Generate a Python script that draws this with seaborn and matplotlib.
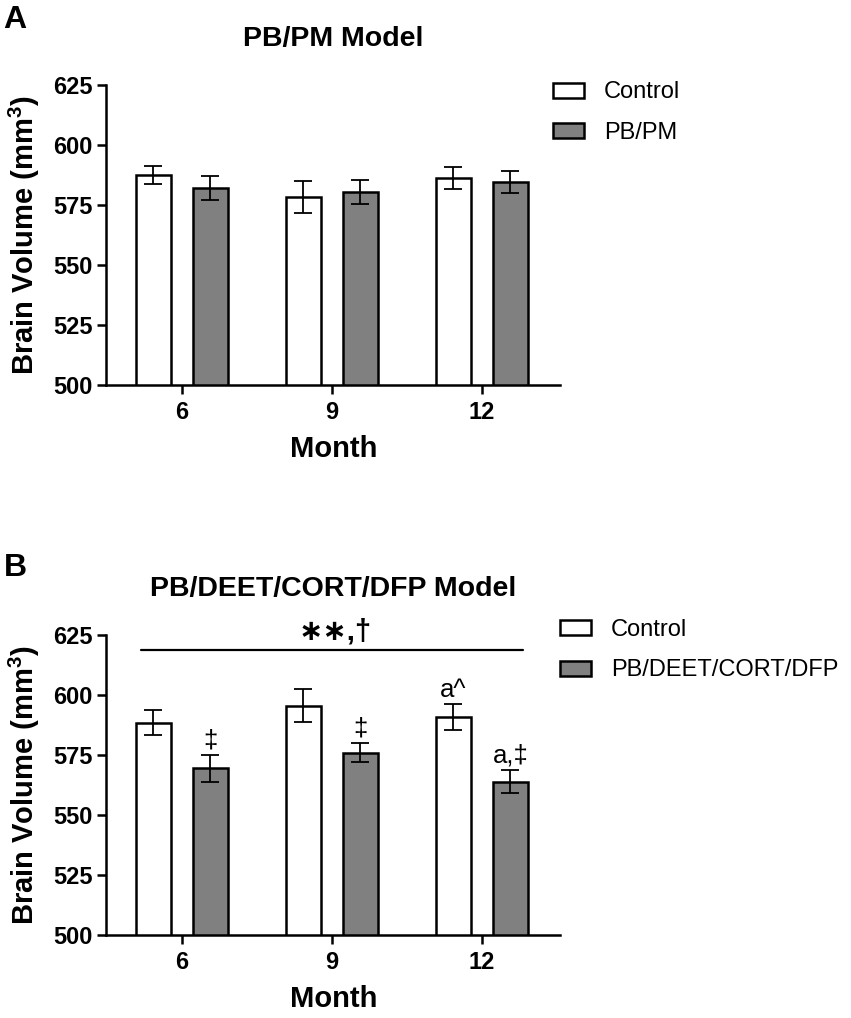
import matplotlib
matplotlib.use('Agg')
import matplotlib.pyplot as plt
from matplotlib.container import BarContainer
import seaborn as sns
import pandas as pd

# data
months = ['6', '9', '12']

pbpm_groups = ['Control', 'PB/PM']
pbpm_control_mean = [587.5, 578.3, 586.2]
pbpm_control_sem = [3.7, 6.7, 4.5]
pbpm_treat_mean = [582.0, 580.3, 584.5]
pbpm_treat_sem = [5.0, 5.0, 4.5]

gwi_groups = ['Control', 'PB/DEET/CORT/DFP']
gwi_control_mean = [588.5, 595.6, 590.8]
gwi_control_sem = [5.3, 6.8, 5.5]
gwi_treat_mean = [569.5, 576.0, 563.9]
gwi_treat_sem = [5.7, 3.9, 4.7]
gwi_control_marks = ['', '', 'a^']
gwi_treat_marks = ['\u2021', '\u2021', 'a,\u2021']
gwi_overall_mark = '\u2217\u2217,\u2020'
gwi_overall_y = 618.75

sns.set_style('ticks')
plt.rcParams['font.family'] = ['Liberation Sans', 'DejaVu Sans']
plt.rcParams['mathtext.fontset'] = 'custom'
plt.rcParams['mathtext.rm'] = 'Liberation Sans'
plt.rcParams['mathtext.bf'] = 'Liberation Sans:bold'
for k in ['text.color', 'axes.labelcolor', 'axes.edgecolor', 'xtick.color', 'ytick.color']:
    plt.rcParams[k] = 'black'

fig = plt.figure(figsize=(8.51, 10.18), dpi=100)
ax_a = fig.add_axes([0.1251, 0.6218, 0.5329, 0.2947])
ax_b = fig.add_axes([0.1251, 0.0815, 0.5329, 0.2947])


def bar_containers(ax):
    return [c for c in ax.containers if isinstance(c, BarContainer)]


def draw_panel(ax, groups, c_mean, c_sem, t_mean, t_sem, title, title_pad, leg_xy):
    df = pd.DataFrame({
        'Month': months * 2,
        'Group': [groups[0]] * 3 + [groups[1]] * 3,
        'Volume': c_mean + t_mean,
    })
    sns.barplot(data=df, x='Month', y='Volume', hue='Group', order=months,
                hue_order=groups, palette={groups[0]: 'white', groups[1]: '#808080'},
                saturation=1, width=0.76, gap=0.39, edgecolor='black',
                linewidth=1.8, errorbar=None, legend=False, ax=ax)
    bars = bar_containers(ax)
    for cont, m, s in zip(bars, [c_mean, t_mean], [c_sem, t_sem]):
        xs = [p.get_x() + p.get_width() / 2 for p in cont.patches]
        ax.errorbar(xs, m, yerr=s, fmt='none', ecolor='black', elinewidth=1.3,
                    capsize=6.5, capthick=1.3, zorder=5)

    ax.set_ylim(500, 625)
    ax.set_yticks([500, 525, 550, 575, 600, 625])
    ax.set_xlim(-0.503, 2.52)
    sns.despine(ax=ax)
    for sp in ['left', 'bottom']:
        ax.spines[sp].set_linewidth(1.8)
    ax.tick_params(axis='both', length=6.5, width=1.8, labelsize=17)
    ax.tick_params(axis='y', pad=3.5)
    ax.tick_params(axis='x', pad=5)
    for lab in ax.get_xticklabels() + ax.get_yticklabels():
        lab.set_fontweight('bold')
    ax.set_xlabel('Month', fontsize=21, fontweight='bold', labelpad=8)
    ax.set_ylabel(r'Brain Volume (mm$^\mathbf{3}$)', fontsize=21,
                  fontweight='bold', labelpad=8)
    ax.set_title(title, fontsize=20.5, fontweight='bold', pad=title_pad)

    handles = [c.patches[0] for c in bars]
    ax.legend(handles, groups, loc='upper left', bbox_to_anchor=leg_xy,
              bbox_transform=fig.transFigure, frameon=False, fontsize=17,
              borderaxespad=0, borderpad=0, handlelength=1.31,
              handleheight=0.6, handletextpad=0.85, labelspacing=0.78)
    return ax


draw_panel(ax_a, pbpm_groups, pbpm_control_mean, pbpm_control_sem,
           pbpm_treat_mean, pbpm_treat_sem, 'PB/PM Model', 28, (0.6498, 0.920))
draw_panel(ax_b, gwi_groups, gwi_control_mean, gwi_control_sem,
           gwi_treat_mean, gwi_treat_sem, 'PB/DEET/CORT/DFP Model', 28, (0.658, 0.392))

# significance marks on panel B
for cont, m, s, marks in zip(bar_containers(ax_b), [gwi_control_mean, gwi_treat_mean],
                             [gwi_control_sem, gwi_treat_sem],
                             [gwi_control_marks, gwi_treat_marks]):
    for p, mm, ss, lab in zip(cont.patches, m, s, marks):
        if lab:
            ax_b.text(p.get_x() + p.get_width() / 2, mm + ss + 1.0, lab,
                      ha='center', va='bottom', fontsize=18.5)

ax_b.plot([-0.27, 2.275], [gwi_overall_y, gwi_overall_y], color='black',
          lw=1.6, clip_on=False)
ax_b.text(1.02, gwi_overall_y + 2.0, gwi_overall_mark, ha='center', va='bottom',
          fontsize=21, fontweight='bold', clip_on=False)

fig.text(0.0042, 0.9725, 'A', fontsize=23, fontweight='bold', va='baseline')
fig.text(0.0042, 0.4342, 'B', fontsize=23, fontweight='bold', va='baseline')

fig.savefig('out.png', dpi=100)
